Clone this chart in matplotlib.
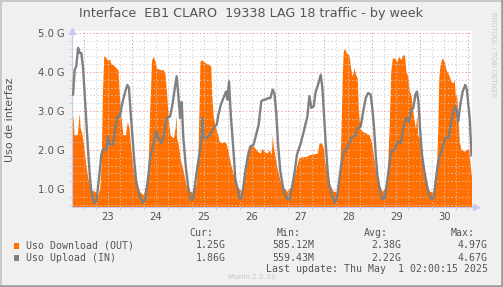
import matplotlib
matplotlib.use('Agg')
import matplotlib.pyplot as plt
from matplotlib.patches import Rectangle
from matplotlib.lines import Line2D
import numpy as np

# hours since Apr 22 00:00, values in G
up_hours = [18.2, 18.7, 19.5, 20.3, 21.2, 22.0, 22.8, 23.7, 24.5, 25.3, 26.1, 27.0, 27.8, 29.1, 30.3,
            31.1, 32.0, 32.8, 33.6, 35.3, 36.1, 37.0, 38.6, 39.5, 40.8, 42.0, 43.1, 44.5, 45.8, 46.6,
            47.5, 48.6, 49.4, 50.2, 51.9, 53.6, 54.7, 56.1, 57.4, 58.6, 60.1, 61.2, 62.9, 64.1, 65.4,
            67.1, 68.4, 69.6, 70.4, 71.2, 72.1, 72.9, 73.7, 75.0, 76.2, 77.0, 77.9, 78.7, 79.5, 80.4,
            81.7, 82.9, 83.4, 83.7, 85.4, 87.0, 88.7, 90.4, 91.2, 92.4, 93.7, 95.0, 95.7, 96.5, 97.4,
            98.4, 99.1, 99.6, 101.0, 102.1, 103.0, 103.8, 104.6, 106.0, 107.1, 108.8, 110.0, 111.3,
            112.6, 113.8, 114.6, 116.0, 117.1, 118.3, 119.1, 120.0, 121.0, 122.1, 123.8, 125.4, 126.6,
            127.9, 129.3, 130.4, 132.1, 133.4, 134.6, 135.6, 136.6, 137.6, 138.8, 139.6, 140.9, 142.3,
            143.1, 143.9, 144.8, 145.6, 146.4, 148.1, 149.4, 150.5, 151.4, 152.5, 153.9, 155.5, 156.4,
            157.5, 159.7, 160.5, 162.2, 163.5, 164.7, 165.9, 167.2, 168.0, 168.9, 169.7, 170.5, 171.9,
            173.0, 174.2, 175.2, 176.3, 177.5, 179.2, 180.7, 182.3, 183.5, 184.8, 186.2, 187.3, 188.5,
            189.5, 190.3, 191.0, 191.8, 192.8, 194.0, 195.2, 196.5, 197.8, 198.7, 199.8, 200.9, 201.8,
            203.1, 204.4, 206.1, 207.2, 208.4, 209.3, 210.1, 210.9, 211.9, 213.1, 214.4, 215.2, 216.1,
            216.7, 217.5]
up_vals = [3.42, 3.42, 4.06, 4.15, 4.62, 4.49, 4.49, 4.10, 3.42, 2.74, 2.05, 1.37, 0.94, 0.64, 0.68,
           1.03, 1.45, 1.88, 2.01, 2.01, 2.35, 2.14, 2.14, 2.48, 2.86, 2.86, 3.16, 3.46, 3.67, 3.59,
           2.90, 2.14, 1.62, 1.20, 0.81, 0.64, 0.74, 1.28, 1.88, 2.09, 2.48, 2.31, 2.18, 2.39, 2.82,
           2.86, 3.20, 3.63, 3.89, 3.42, 2.82, 3.23, 2.31, 1.54, 1.03, 0.81, 0.70, 0.80, 1.11, 1.45,
           1.88, 2.31, 2.82, 2.31, 2.31, 2.39, 2.56, 2.65, 2.90, 3.16, 3.33, 3.50, 3.29, 3.76, 2.90,
           2.22, 1.71, 1.28, 0.94, 0.73, 0.81, 1.11, 1.45, 1.88, 2.09, 2.14, 2.39, 2.65,
           3.25, 3.29, 3.29, 3.33, 3.33, 3.55, 3.46, 3.00, 2.14, 1.45, 0.94, 0.73, 0.73,
           1.03, 1.45, 1.88, 2.14, 2.39, 2.65, 2.86, 3.38, 3.08, 3.12, 3.46, 3.67, 3.93,
           3.59, 2.90, 2.14, 1.54, 1.11, 0.81, 0.64, 0.81, 1.20, 1.62, 1.97, 2.05, 2.18,
           2.31, 2.39, 2.56, 2.60, 3.00, 3.33, 3.46, 3.42, 3.08, 2.56, 1.88, 1.37, 0.94,
           0.73, 0.76, 1.11, 1.54, 1.97, 2.01, 2.22, 2.18, 2.56, 2.82, 2.73, 3.00, 3.08,
           3.42, 3.50, 3.25, 2.56, 1.88, 1.45, 1.11, 0.81, 0.73, 0.81, 1.28, 1.71, 1.88,
           2.05, 2.31, 2.31, 2.65, 3.00, 3.12, 3.00, 2.73, 3.16, 3.50, 3.67, 3.55, 3.08,
           2.74, 1.86]

dn_hours = [18.1, 18.7, 19.2, 20.8, 21.7, 22.3, 23.2, 23.7, 24.5, 25.3, 26.1, 27.0, 27.8, 29.5, 31.1,
            32.0, 32.8, 33.3, 34.0, 34.8, 35.6, 37.0, 37.5, 38.6, 40.3, 41.1, 41.6, 42.5, 43.6, 44.8,
            45.8, 46.6, 47.5, 48.6, 50.2, 51.9, 53.6, 55.2, 56.1, 56.9, 57.9, 58.7, 59.6, 60.4, 62.1,
            63.7, 64.6, 65.4, 66.2, 67.1, 68.7, 69.6, 70.1, 70.4, 71.2, 72.1, 73.7, 75.0, 76.7, 78.4,
            80.0, 80.9, 81.5, 82.0, 82.9, 83.7, 85.0, 86.7, 87.4, 87.9, 88.7, 89.5, 90.4, 91.7, 92.9,
            94.0, 95.0, 96.2, 97.4, 98.7, 99.6, 101.3, 102.6, 103.8, 105.5, 106.6, 108.0, 108.8, 110.5,
            112.1, 113.0, 113.8, 115.5, 116.6, 117.6, 118.1, 118.6, 119.3, 120.5, 122.1, 123.8, 125.4,
            127.1, 128.8, 130.4, 131.3, 132.9, 134.9, 136.6, 138.8, 140.6, 141.4, 142.6, 143.6, 144.3,
            145.6, 146.9, 148.5, 150.2, 151.4, 152.2, 153.0, 153.5, 154.2, 155.0, 156.4, 157.2, 158.0,
            158.9, 159.7, 160.5, 161.0, 161.8, 163.0, 164.7, 166.4, 167.5, 168.5, 169.7, 171.4, 173.0,
            174.4, 175.5, 176.4, 177.2, 178.0, 179.2, 180.2, 181.2, 182.3, 183.2, 184.0, 184.8, 185.7,
            186.5, 187.3, 188.2, 189.5, 190.2, 190.7, 191.5, 192.3, 193.5, 194.8, 196.5, 198.5, 199.8,
            200.7, 201.2, 201.8, 202.8, 204.0, 204.8, 206.1, 207.3, 208.1, 208.9, 209.4, 210.1, 210.6,
            211.4, 212.3, 213.9, 215.3, 216.1, 216.7, 217.5]
dn_vals = [2.80, 2.86, 2.39, 2.39, 2.95, 2.56, 2.39, 2.22, 1.88, 1.54, 1.28, 1.11, 0.98, 0.94, 0.85,
           1.03, 1.71, 3.42, 4.40, 4.40, 4.32, 4.32, 4.23, 4.19, 4.10, 4.06, 3.59, 2.90, 2.39, 2.39,
           2.74, 2.56, 2.05, 1.54, 1.11, 0.94, 0.85, 1.11, 1.54, 3.00, 4.32, 4.40, 4.27, 4.10, 4.06,
           4.06, 3.93, 3.42, 2.82, 2.39, 2.31, 2.56, 2.90, 2.31, 2.14, 1.79, 1.45, 1.11, 0.94, 0.94,
           1.11, 1.71, 3.00, 4.27, 4.32, 4.27, 4.23, 4.19, 4.15, 3.42, 2.82, 2.65, 2.48, 2.22, 2.18,
           2.22, 2.18, 1.92, 1.62, 1.37, 1.20, 1.03, 0.94, 1.11, 1.71, 2.05, 2.14, 2.09, 1.97,
           1.92, 2.05, 1.97, 1.92, 2.01, 1.88, 2.39, 2.09, 1.88, 1.54, 1.20, 1.03, 0.94,
           1.03, 1.28, 1.62, 1.79, 1.83, 1.83, 1.88, 1.90, 1.92, 2.18, 2.18, 2.05, 1.71,
           1.37, 1.11, 0.94, 0.94, 1.11, 2.14, 3.85, 4.53, 4.62, 4.49, 4.44, 4.10, 3.89,
           4.10, 3.93, 3.85, 3.08, 2.56, 2.48, 2.44, 2.39, 2.22, 1.88, 1.45, 1.11, 0.94,
           1.03, 1.45, 2.56, 4.02, 4.36, 4.36, 4.27, 4.40, 4.32, 4.44, 4.44, 4.02, 3.89,
           3.50, 3.42, 3.00, 2.56, 2.90, 2.39, 2.31, 1.88, 1.45, 1.11, 0.94, 0.94, 1.20,
           2.56, 3.85, 4.19, 4.36, 4.27, 4.06, 3.93, 3.76, 3.72, 3.80, 3.42, 3.42, 3.00,
           2.22, 2.01, 1.97, 2.01, 2.05, 1.71, 1.30]

day_labels = ['23', '24', '25', '26', '27', '28', '29', '30']
y_ticks = [1.0, 2.0, 3.0, 4.0, 5.0]
legend_rows = [('Uso Download (OUT)', '1.25G', '585.12M', '2.38G', '4.97G'),
               ('Uso Upload (IN)', '1.86G', '559.43M', '2.22G', '4.67G')]

W, H = 503, 287
BG = '#f0f0f0'
TXT = '#555555'
ORANGE = '#ff7000'
GRAY = '#808080'

fig = plt.figure(figsize=(W / 100, H / 100), dpi=100)
fig.patch.set_facecolor(BG)

def fx(px):
    return px / W

def fy(py):
    return 1 - py / H

ax = fig.add_axes([fx(72), fy(206.5), fx(471.7) - fx(72), fy(30.7) - fy(206.5)])
ax.set_facecolor('white')
x_lo, x_hi = 18.16, 217.6
y_lo, y_hi = 0.55, 5.06
ax.set_xlim(x_lo, x_hi)
ax.set_ylim(y_lo, y_hi)

ax.fill_between(dn_hours, 0, dn_vals, color=ORANGE, lw=0, zorder=2)

# grid over the area, rrdtool style
dots = (0, (1.2, 2.2))
for h in np.arange(24, x_hi, 6):
    major = h % 24 == 0
    ax.axvline(h, color='#f09090' if major else '#cccccc', lw=0.75, ls=dots,
               zorder=3, alpha=0.9)
for v in np.arange(0.6, y_hi, 0.2):
    major = abs(v - round(v)) < 1e-6
    ax.axhline(v, color='#f09090' if major else '#cccccc', lw=0.75, ls=dots,
               zorder=3, alpha=0.9)

ax.plot(up_hours, up_vals, color=GRAY, lw=1.7, zorder=4, solid_joinstyle='round')

for s in ['top', 'right']:
    ax.spines[s].set_visible(False)
for s in ['left', 'bottom']:
    ax.spines[s].set_color('#c8c8f0')
    ax.spines[s].set_linewidth(0.8)

noons = [36 + 24 * i for i in range(len(day_labels))]
ax.set_xticks(noons)
ax.set_xticklabels(day_labels)
ax.set_xticks(np.arange(24, x_hi, 6), minor=True)
ax.set_yticks(y_ticks)
ax.set_yticklabels([f'{v:.1f} G' for v in y_ticks])
ax.set_yticks(np.arange(0.6, y_hi, 0.2), minor=True)
ax.tick_params(which='major', length=0, labelsize=7.2, labelcolor=TXT, pad=5)
ax.tick_params(axis='x', which='major', pad=4)
ax.tick_params(which='minor', length=2, color='#d0d0d0', width=0.7)

# axis arrows
ax.plot([0], [1.0], transform=ax.transAxes, marker='^', ms=4, color='#c8c8f0',
        clip_on=False, zorder=5)
ax.plot([1.012], [0], transform=ax.transAxes, marker='>', ms=4, color='#c8c8f0',
        clip_on=False, zorder=5)
ax.add_line(Line2D([1.0, 1.012], [0, 0], transform=ax.transAxes, color='#c8c8f0',
                   lw=0.8, clip_on=False))

fig.text(fx(251), fy(14), 'Interface  EB1 CLARO  19338 LAG 18 traffic - by week',
         ha='center', va='center', fontsize=9.2, color=TXT)
fig.text(fx(10), fy(120), 'Uso de interfaz', rotation=90, ha='center', va='center',
         fontsize=8, color=TXT)
fig.text(fx(493), fy(55), 'RRDTOOL / TOBI OETIKER', rotation=270, ha='center',
         va='center', fontsize=4.8, color='#c8c8c8')

mono = 'DejaVu Sans Mono'
fs = 7.1
for label, px in [('Cur:', 213), ('Min:', 301), ('Avg:', 388), ('Max:', 475)]:
    fig.text(fx(px), fy(233.5), label, ha='right', va='center', family=mono,
             fontsize=fs, color=TXT)

val_x = [226, 314, 401, 488]
for i, (row, col) in enumerate(zip(legend_rows, [ORANGE, GRAY])):
    yy = 245.5 + 12.2 * i
    fig.patches.append(Rectangle((fx(14), fy(yy + 3)), fx(19) - fx(14), fy(yy - 3) - fy(yy + 3),
                                 transform=fig.transFigure, facecolor=col, edgecolor='none'))
    fig.text(fx(26.5), fy(yy), row[0], ha='left', va='center', family=mono,
             fontsize=fs, color=TXT)
    for txt, px in zip(row[1:], val_x):
        fig.text(fx(px), fy(yy), txt, ha='right', va='center', family=mono,
                 fontsize=fs, color=TXT)

fig.text(fx(488), fy(269.5), 'Last update: Thu May  1 02:00:15 2025', ha='right',
         va='center', family=mono, fontsize=fs, color=TXT)
fig.text(fx(252), fy(277), 'Munin 2.0.33', ha='center', va='center', fontsize=5.2,
         color='#c8c8c8')

# 3d-ish frame around the picture
fig.add_artist(Line2D([0, 1], [fy(0.5), fy(0.5)], transform=fig.transFigure, color='#c8c8c8', lw=1.4))
fig.add_artist(Line2D([fx(0.5), fx(0.5)], [0, 1], transform=fig.transFigure, color='#c8c8c8', lw=1.4))
fig.add_artist(Line2D([0, 1], [fy(286), fy(286)], transform=fig.transFigure, color='#999999', lw=1.8))
fig.add_artist(Line2D([fx(502), fx(502)], [0, 1], transform=fig.transFigure, color='#999999', lw=1.8))

fig.savefig('out.png', dpi=100, facecolor=BG)
